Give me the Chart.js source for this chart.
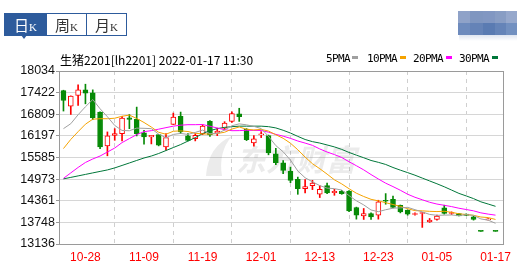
<!DOCTYPE html>
<html>
<head>
<meta charset="utf-8">
<script src="https://cdn.jsdelivr.net/npm/chart.js@4.4.1/dist/chart.umd.min.js"></script>
<style>
  body{margin:0;width:517px;height:265px;position:relative;background:#fff;overflow:hidden;font-family:"Liberation Sans",Arial,sans-serif;}
  #wrap{position:absolute;left:0;top:0;width:517px;height:265px;}
  .tabs{position:absolute;left:4px;top:13px;height:21px;border:1px solid #2d5b9c;display:flex;}
  .tab{width:40px;height:21px;line-height:21px;text-align:center;color:#333;border-left:1px solid #2d5b9c;box-sizing:border-box;}
  .tab:first-child{border-left:none;background:#2d5b9c;color:#fff;width:41px;}
  .tab b{font-weight:normal;font-size:15px;font-family:"Noto Sans CJK SC",sans-serif;}
  .tab i{font-style:normal;font-size:11px;font-family:"Liberation Serif",serif;}
  .arrow{position:absolute;left:21px;top:35px;width:0;height:0;border-left:3px solid transparent;border-right:3px solid transparent;border-top:4px solid #2d5b9c;}
  .title{position:absolute;left:60px;top:51px;font-size:12px;color:#000;font-family:"Noto Sans CJK SC",sans-serif;white-space:nowrap;}
  .leg{position:absolute;top:52px;font-size:11px;letter-spacing:-0.6px;color:#000;font-family:"DejaVu Sans Mono",monospace;white-space:nowrap;}
  .sw{position:absolute;top:56px;width:6px;height:3px;}
  .mos{position:absolute;}
</style>
</head>
<body>
<div id="wrap"><canvas id="kline"></canvas></div>
<div class="tabs"><div class="tab"><b>日</b><i>K</i></div><div class="tab"><b>周</b><i>K</i></div><div class="tab"><b>月</b><i>K</i></div></div>
<div class="arrow"></div>
<div class="title">生猪2201[lh2201] 2022-01-17 11:30</div>
<div id="legend"></div>
<div id="mosaic"></div>
<script>
// ---- data ----
const yTicks = [13136,13748,14361,14973,15585,16197,16809,17422,18034];
const tickIdx = [3,11,19,27,35,43,51,59];
const tickDates = ['10-28','11-09','11-19','12-01','12-13','12-23','01-05','01-17'];

const opens = [17480,17040,17340,17500,17415,16871,15914,16213,16261,16711,16664,16280,16168,16232,15886,16523,16748,16196,16120,16261,
  16607,16275,16416,16604,16824,16393,15999,16224,16204,15689,15436,15199,14966,14704,14788,14544,14788,14591,14628,14636,
  14169,13933,14000,13952,14375,14403,14234,14093,13972,14000,13764,13831,14158,14000,14000,13981,13905,13510,13820,13510];
const highs = [17490,17330,17640,17660,17500,16880,16309,16402,16748,16804,17012,16353,16213,16232,16261,16843,16871,16261,16261,16514,
  16627,16416,16599,16880,16979,16402,16204,16317,16220,15847,15501,15312,15030,14957,14938,14788,14862,14684,14656,14650,
  14180,14141,14018,14375,14563,14496,14240,14100,14018,14030,13859,13952,14234,14046,14005,13990,13924,13510,13855,13510];
const lows = [16900,16804,17060,17105,16655,15838,15633,16072,16055,16402,16196,15959,15970,15914,15790,16520,16261,16055,16055,16232,
  16185,16204,16365,16579,16607,16064,15903,16148,15661,15380,15126,14873,14543,14580,14676,14451,14563,14515,14543,14050,
  13840,13831,13831,13840,14262,14160,14017,13952,13952,13606,13747,13812,13981,13972,13930,13940,13812,13495,13815,13495];
const closes = [17198,17322,17500,17406,16711,15886,16196,16261,16703,16664,16261,16168,16213,15931,16148,16731,16309,16072,16213,16478,
  16224,16331,16557,16832,16739,16092,16111,16252,15717,15436,15219,14938,14704,14760,14862,14684,14580,14628,14563,14073,
  13952,14000,13905,14327,14347,14169,14045,13981,14000,14028,13812,13924,14000,14028,13933,13944,13831,13495,13848,13495];

const ma5 = [16402,16542,16796,17021,17227,16965,16740,16492,16351,16342,16417,16411,16402,16247,16144,16238,16266,16238,16295,16361,
  16259,16264,16361,16484,16537,16510,16466,16405,16182,15922,15747,15512,15203,15011,14897,14790,14718,14703,14663,14506,
  14359,14243,14099,14051,14106,14150,14159,14174,14108,14045,13973,13949,13953,13958,13939,13966,13947,13846,13810,13723];
const ma10 = [15838,16097,16317,16528,16669,16683,16683,16697,16753,16785,16691,16576,16447,16299,16243,16328,16339,16320,16271,16252,
  16249,16265,16299,16390,16449,16385,16365,16383,16333,16229,16129,15989,15804,15597,15409,15268,15115,14953,14837,14701,
  14574,14481,14401,14357,14306,14254,14201,14136,14080,14075,14061,14054,14063,14033,13992,13970,13948,13900,13884,13831];
const ma20 = [14994,15149,15304,15444,15543,15627,15740,15853,16007,16120,16233,16317,16345,16387,16430,16472,16500,16514,16514,16519,
  16470,16420,16373,16344,16346,16356,16352,16351,16302,16241,16189,16127,16052,15993,15929,15827,15740,15668,15585,15465,
  15352,15235,15102,14977,14858,14761,14658,14545,14459,14388,14318,14267,14232,14195,14149,14112,14075,14018,13982,13953];
const ma30 = [14980,15022,15064,15106,15149,15191,15233,15290,15360,15430,15501,15571,15627,15698,15782,15867,15951,16050,16148,16261,
  16345,16402,16438,16458,16472,16472,16472,16472,16458,16422,16356,16277,16183,16095,16034,15994,15940,15885,15814,15728,
  15651,15578,15501,15448,15388,15302,15227,15157,15084,15002,14921,14841,14756,14663,14569,14497,14421,14330,14267,14203];

const maNames = ['5PMA','10PMA','20PMA','30PMA'];
const maColors = ['#a0a0a0','#f5a300','#ff00ff','#00773a'];
const UP = '#ff0000', DOWN = '#078a07';

// legend + mosaic (html)
const legX = [[326,352],[367,400],[413,446],[459,492]];
document.getElementById('legend').innerHTML = maNames.map((n,i)=>
  `<div class="leg" style="left:${legX[i][0]}px">${n}</div><div class="sw" style="left:${legX[i][1]}px;background:${maColors[i]}"></div>`).join('');
const mosCols = [458,470,483,495,506,517];
const mosTop = ['#8fa2c8','#7f96c0','#8197c2','#889dc4','#96a8cc'];
const mosBot = ['#6e8bbd','#6583b7','#5a7bb2','#6584b8','#7290c0'];
document.getElementById('mosaic').innerHTML = mosTop.map((c,i)=>
  `<div class="mos" style="left:${mosCols[i]}px;top:11px;width:${mosCols[i+1]-mosCols[i]}px;height:12px;background:${c}"></div>`+
  `<div class="mos" style="left:${mosCols[i]}px;top:23px;width:${mosCols[i+1]-mosCols[i]}px;height:12px;background:${mosBot[i]}"></div>`).join('')+
  `<div class="mos" style="left:459px;top:35px;width:58px;height:6px;background:linear-gradient(#dfe5f0,#fff)"></div>`;

const up = closes.map((c,i)=>c>=opens[i]);
const idx = closes.map((c,i)=>i);

const watermark = {
  id:'watermark',
  beforeDatasetsDraw(chart){
    const ctx = chart.ctx;
    ctx.save();
    ctx.fillStyle = 'rgba(110,110,110,0.14)';
    ctx.font = 'italic bold 30px "Noto Sans CJK SC"';
    ctx.textBaseline = 'middle';
    ctx.fillText('东方财富', 236, 160);
    ctx.beginPath();
    ctx.moveTo(206,176); ctx.quadraticCurveTo(208,146,232,136); ctx.quadraticCurveTo(218,152,222,176); ctx.closePath();
    ctx.fill();
    ctx.restore();
  }
};
const frame = {
  id:'frame',
  afterDraw(chart){
    const a = chart.chartArea, ctx = chart.ctx;
    ctx.save();
    ctx.strokeStyle = '#9a9a9a'; ctx.lineWidth = 1;
    ctx.strokeRect(Math.round(a.left)+0.5, Math.round(a.top)+0.5, Math.round(a.right-a.left)-1, Math.round(a.bottom-a.top));
    ctx.restore();
  }
};

const lineSets = [ma5,ma10,ma20,ma30].map((arr,k)=>({
  type:'line', label:maNames[k], data:arr.map((v,i)=>({x:i,y:v})),
  borderColor:maColors[k], borderWidth:1, pointRadius:0, tension:0, order:1
}));

new Chart(document.getElementById('kline'), {
  type:'bar',
  data:{ datasets:[
    {label:'wick', data:idx.map(i=>({x:i,y:[lows[i],highs[i]]})), backgroundColor:idx.map(i=>up[i]?UP:DOWN),
     barThickness:1, grouped:false, order:3},
    {label:'body', data:idx.map(i=>({x:i,y:[opens[i],closes[i]]})), backgroundColor:idx.map(i=>up[i]?'#ffffff':DOWN),
     borderColor:idx.map(i=>up[i]?UP:DOWN), borderWidth:1, borderSkipped:false, minBarLength:1,
     barThickness:5, grouped:false, order:2},
    ...lineSets
  ]},
  plugins:[watermark, frame],
  options:{
    responsive:true, maintainAspectRatio:false, animation:false,
    layout:{padding:{top:71,right:7,left:0,bottom:0}},
    plugins:{legend:{display:false}, tooltip:{enabled:false}},
    scales:{
      x:{type:'linear', min:-0.61, max:60.17, offset:false,
         afterBuildTicks:s=>{ s.ticks = tickIdx.map(v=>({value:v})); },
         afterFit:s=>{ s.height = 21; },
         grid:{color:'#cfcfcf', drawTicks:false},
         border:{display:false, dash:[4,4]},
         ticks:{autoSkip:false, maxRotation:0, padding:6, color:'#ff0000', font:{family:'"Liberation Sans"', size:12},
                callback:(v,i)=>tickDates[i]}},
      y:{min:13136, max:18034,
         afterBuildTicks:s=>{ s.ticks = yTicks.map(v=>({value:v})); },
         afterFit:s=>{ s.width = 59; },
         grid:{color:'#d6d6d6', drawTicks:true, tickLength:3, tickColor:'#999'},
         border:{display:false},
         ticks:{padding:1, color:'#111', font:{family:'"Liberation Sans"', size:12.5}, callback:v=>String(v)}}
    }
  }
});
</script>
</body>
</html>
